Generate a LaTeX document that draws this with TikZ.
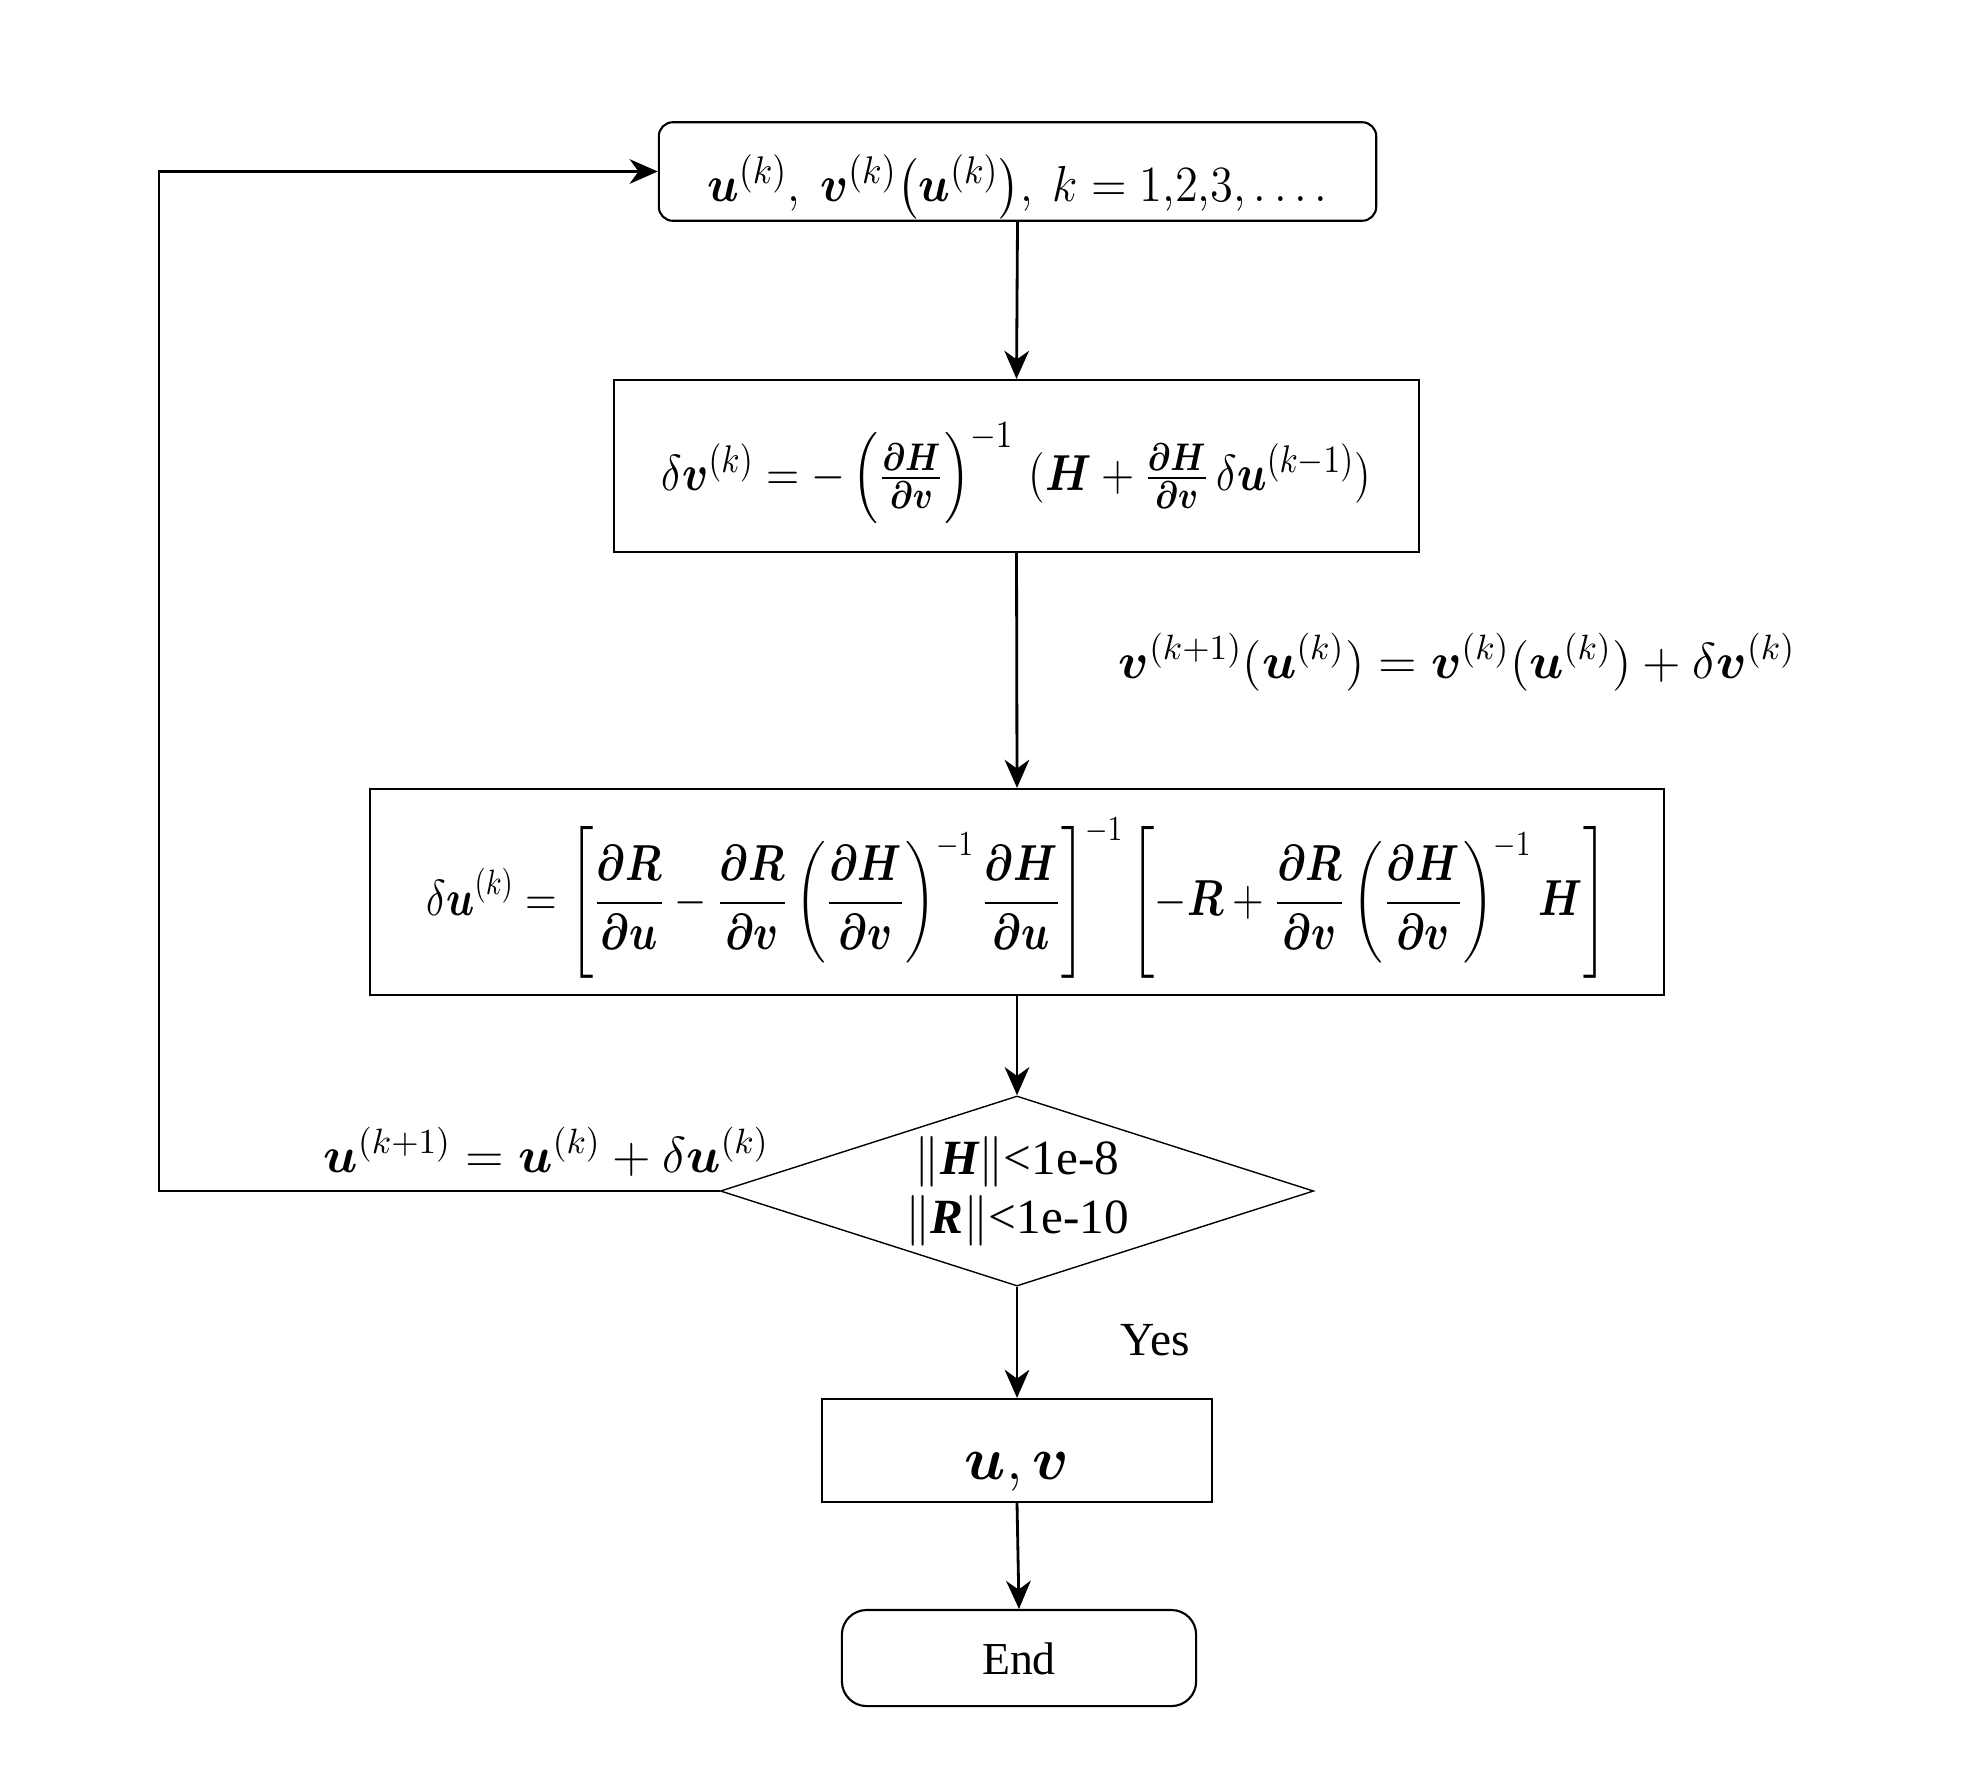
\documentclass[tikz,border=0pt]{standalone}
\usepackage{amsmath}
\usepackage{bm}
\usepackage{fontspec}
\setmainfont{Liberation Serif}
\usetikzlibrary{shapes.geometric,arrows.meta}
\newcommand{\placed}[3]{\raisebox{#1}[0pt][0pt]{\scalebox{#2}[1]{#3}}}
\tikzset{
  base/.style={draw=black, line width=0.6pt, inner sep=0pt, align=center, font=\fontsize{14}{17}\selectfont},
  roundbox/.style={base, rounded corners=4pt},
  endbox/.style={base, rounded corners=7pt},
  sqbox/.style={base},
  decision/.style={base, shape=diamond, line width=0.4pt, aspect=3.12, font=\fontsize{14}{16.8}\selectfont},
  flow/.style={line width=0.8pt, -{Stealth[length=8pt,width=7pt,inset=2.5pt]}},
  lbl/.style={inner sep=0pt, font=\fontsize{14}{17}\selectfont}
}
\begin{document}
\begin{tikzpicture}[x=0.01cm,y=-0.01cm]
\useasboundingbox (0,0) rectangle (1980,1772);
\node[roundbox, minimum width=7.17cm, minimum height=0.985cm, font=\fontsize{15}{18}\selectfont] (top) at (1017.5,171.5)
  {\placed{-8.5pt}{0.92}{$\bm{u}^{(k)},\ \bm{v}^{(k)}\bigl(\bm{u}^{(k)}\bigr),\ k=1{,}2{,}3,\dots.$}};
\node[sqbox, minimum width=8.05cm, minimum height=1.72cm, font=\fontsize{15}{18}\selectfont] (dv) at (1016.5,466)
  {\placed{-7pt}{0.86}{$\delta\bm{v}^{(k)}=-\left(\tfrac{\bm{\partial H}}{\bm{\partial v}}\right)^{-1}\,(\bm{H}+\tfrac{\bm{\partial H}}{\bm{\partial v}}\,\delta\bm{u}^{(k-1)})$}};
\node[sqbox, minimum width=12.94cm, minimum height=2.06cm, font=\fontsize{14}{17}\selectfont] (du) at (1017,892)
  {\placed{-6.6pt}{0.82}{$\displaystyle \delta\bm{u}^{(k)}=\left[\frac{\bm{\partial R}}{\bm{\partial u}}-\frac{\bm{\partial R}}{\bm{\partial v}}\left(\frac{\bm{\partial H}}{\bm{\partial v}}\right)^{-1}\frac{\bm{\partial H}}{\bm{\partial u}}\right]^{-1}\left[-\bm{R}+\frac{\bm{\partial R}}{\bm{\partial v}}\left(\frac{\bm{\partial H}}{\bm{\partial v}}\right)^{-1}\bm{H}\right]$}};
\node[decision, minimum width=5.93cm, minimum height=1.9cm] (chk) at (1017,1191)
  {$\|${\bfseries\itshape H}$\|$<1e-8\\ $\|${\bfseries\itshape R}$\|$<1e-10};
\node[sqbox, minimum width=3.9cm, minimum height=1.03cm, font=\fontsize{17}{20}\selectfont] (res) at (1017,1450.5)
  {\placed{-8.3pt}{1}{$\bm{u},\bm{v}$}};
\node[endbox, minimum width=3.54cm, minimum height=0.96cm, font=\fontsize{13}{16}\selectfont] (end) at (1019,1658)
  {\placed{-4.6pt}{1}{End}};
\node[lbl, anchor=base west, font=\fontsize{14.5}{17}\selectfont] (vupd) at (1118,678)
  {$\bm{v}^{(k+1)}(\bm{u}^{(k)})=\bm{v}^{(k)}(\bm{u}^{(k)})+\delta\bm{v}^{(k)}$};
\node[lbl, anchor=base east] (uupd) at (770,1172)
  {$\bm{u}^{(k+1)}=\bm{u}^{(k)}+\delta\bm{u}^{(k)}$};
\node[lbl, anchor=base, font=\fontsize{13.5}{16}\selectfont] (yes) at (1155,1355) {Yes};
\coordinate (back) at (159,1191);
\draw[flow] (top.south) -- (dv.north);
\draw[flow] (dv.south) -- (du.north);
\draw[flow] (du.south) -- (chk.north);
\draw[flow] (chk.south) -- (res.north);
\draw[flow] (res.south) -- (end.north);
\draw[flow] (chk.west) -- (back) |- (top.west);
\end{tikzpicture}
\end{document}
